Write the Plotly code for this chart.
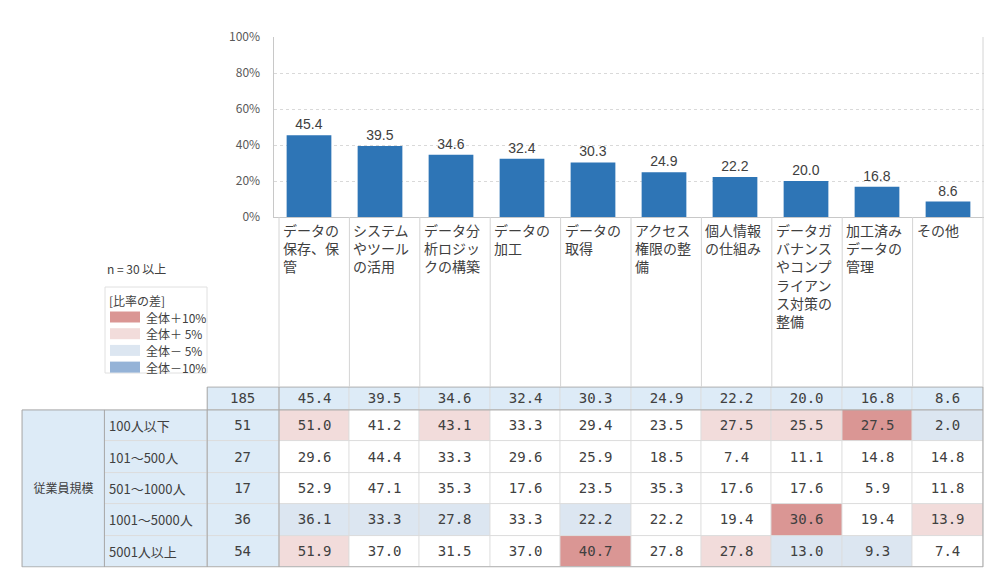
import plotly.graph_objects as go

# ---- data ----
categories = ["データの保存、保管", "システムやツールの活用", "データ分析ロジックの構築",
              "データの加工", "データの取得", "アクセス権限の整備", "個人情報の仕組み",
              "データガバナンスやコンプライアンス対策の整備", "加工済みデータの管理", "その他"]
total_n = 185
total_pct = [45.4, 39.5, 34.6, 32.4, 30.3, 24.9, 22.2, 20.0, 16.8, 8.6]

group_title = "従業員規模"
size_labels = ["100人以下", "101～500人", "501～1000人", "1001～5000人", "5001人以上"]
size_n = [51, 27, 17, 36, 54]
pct_100 = [51.0, 41.2, 43.1, 33.3, 29.4, 23.5, 27.5, 25.5, 27.5, 2.0]
pct_500 = [29.6, 44.4, 33.3, 29.6, 25.9, 18.5, 7.4, 11.1, 14.8, 14.8]
pct_1000 = [52.9, 47.1, 35.3, 17.6, 23.5, 35.3, 17.6, 17.6, 5.9, 11.8]
pct_5000 = [36.1, 33.3, 27.8, 33.3, 22.2, 22.2, 19.4, 30.6, 19.4, 13.9]
pct_over = [51.9, 37.0, 31.5, 37.0, 40.7, 27.8, 27.8, 13.0, 9.3, 7.4]
size_pct = [pct_100, pct_500, pct_1000, pct_5000, pct_over]

y_ticks = [0, 20, 40, 60, 80, 100]
note_text = "n = 30 以上"
legend_title = "[比率の差]"
legend_labels = ["全体＋10%", "全体＋ 5%", "全体－ 5%", "全体－10%"]
min_n = 30

# ---- styling ----
W, H = 1000, 583
JP = "Noto Sans CJK JP"
MONO = "DejaVu Sans Mono"
TXT = "#404040"
BAR = "#2E75B6"
HEAD = "#DDEBF7"
PLUS10, PLUS5, MINUS5, MINUS10 = "#DA9694", "#F2DCDB", "#DCE6F1", "#95B3D7"
swatches = [PLUS10, PLUS5, MINUS5, MINUS10]
palette = ["#FFFFFF", HEAD, PLUS5, PLUS10, MINUS5, MINUS10]


def px(x):
    return x / W


def py(y):
    return 1 - y / H


def code(v, base, n):
    # colour class of a cell: difference to total, only when n >= 30
    if n < min_n:
        return 0
    d = v - base
    if d >= 10:
        return 3
    if d >= 5:
        return 2
    if d <= -10:
        return 5
    if d <= -5:
        return 4
    return 0


def wrap(s, k=4):
    return "<br>".join(s[i:i + k] for i in range(0, len(s), k))


# table geometry (x2 units = one data column)
col_w = 70.4
row_h = 31.4
x0_px = 279
y0_px = 387
head_h = 0.73
x_edges = [-2.48, -1.02] + list(range(11))
y_edges = [0, head_h] + [head_h + i + 1 for i in range(5)]
grp_x = [-3.65, -2.48]
x2_rng = [-3.67, 10.02]
y2_rng = [y_edges[-1] + 0.02, -0.02]

fig = go.Figure()

fig.add_trace(go.Bar(
    x=list(range(len(categories))), y=total_pct, width=0.63,
    marker=dict(color=BAR, line=dict(width=0)),
    text=[f"{v:.1f}" for v in total_pct], textposition="outside",
    textfont=dict(family="Liberation Sans", size=14, color=TXT),
    cliponaxis=False, hoverinfo="skip", showlegend=False,
))

# table cells
z = [[None, 1] + [1] * 10]
txt = [["", str(total_n)] + [f"{v:.1f}" for v in total_pct]]
for n, row in zip(size_n, size_pct):
    z.append([1, 1] + [code(v, b, n) for v, b in zip(row, total_pct)])
    txt.append(["", str(n)] + [f"{v:.1f}" for v in row])

scale = []
for i, c in enumerate(palette):
    scale += [[i / len(palette), c], [(i + 1) / len(palette), c]]

fig.add_trace(go.Heatmap(
    x=x_edges, y=y_edges, z=z, text=txt, texttemplate="%{text}",
    textfont=dict(family=MONO, size=14, color=TXT),
    colorscale=scale, zmin=-0.5, zmax=len(palette) - 0.5, showscale=False,
    xgap=1, ygap=1, hoverinfo="skip", xaxis="x2", yaxis="y2",
))
fig.add_trace(go.Heatmap(
    x=grp_x, y=[head_h, y_edges[-1]], z=[[1]], text=[[group_title]],
    texttemplate="%{text}", textfont=dict(family=JP, size=12, color=TXT),
    colorscale=scale, zmin=-0.5, zmax=len(palette) - 0.5, showscale=False,
    hoverinfo="skip", xaxis="x2", yaxis="y2",
))

shapes = []
# thin grid under the cells
shapes.append(dict(type="rect", xref="x2", yref="y2", x0=grp_x[0], x1=10,
                   y0=head_h, y1=y_edges[-1], fillcolor="#DCDCDC", line_width=0, layer="below"))
shapes.append(dict(type="rect", xref="x2", yref="y2", x0=-1.02, x1=10,
                   y0=0, y1=head_h, fillcolor="#DCDCDC", line_width=0, layer="below"))
# darker borders
dark = dict(color="#A6A6A6", width=1)
for xv, ya in [(grp_x[0], head_h), (-2.48, head_h), (-1.02, 0), (0, 0), (10, 0)]:
    shapes.append(dict(type="line", xref="x2", yref="y2", x0=xv, x1=xv,
                       y0=ya, y1=y_edges[-1], line=dark))
for yv, xa in [(0, -1.02), (head_h, grp_x[0]), (y_edges[-1], grp_x[0])]:
    shapes.append(dict(type="line", xref="x2", yref="y2", x0=xa, x1=10,
                       y0=yv, y1=yv, line=dark))
# column dividers between chart and table
for i in range(11):
    xp = px(x0_px + i * col_w)
    top = 37 if i == 10 else 217
    shapes.append(dict(type="line", xref="paper", yref="paper", x0=xp, x1=xp,
                       y0=py(top), y1=py(y0_px), line=dict(color="#D4D4D4", width=1)))
# legend box
shapes.append(dict(type="rect", xref="paper", yref="paper", x0=px(105), x1=px(207),
                   y0=py(287), y1=py(373), line=dict(color="#E0E0E0", width=1)))
ann = []
for k, (c, lab) in enumerate(zip(swatches, legend_labels)):
    yc = 317 + k * 16.7
    shapes.append(dict(type="rect", xref="paper", yref="paper", x0=px(110), x1=px(140),
                       y0=py(yc - 5.5), y1=py(yc + 5.5), fillcolor=c, line_width=0))
    ann.append(dict(x=px(144), y=py(yc), xref="paper", yref="paper", text=lab,
                    xanchor="left", yanchor="middle", showarrow=False,
                    font=dict(family=JP, size=12, color=TXT)))
ann.append(dict(x=px(107), y=py(300), xref="paper", yref="paper", text=legend_title,
                xanchor="left", yanchor="middle", showarrow=False,
                font=dict(family=JP, size=12, color=TXT)))
ann.append(dict(x=px(105), y=py(268), xref="paper", yref="paper", text=note_text,
                xanchor="left", yanchor="middle", showarrow=False,
                font=dict(family=JP, size=12, color=TXT)))

# category labels, left aligned in their column
for i, c in enumerate(categories):
    ann.append(dict(x=i, y=py(218), xref="x2", yref="paper", text=wrap(c),
                    xanchor="left", yanchor="top", align="left", xshift=2,
                    showarrow=False, font=dict(family=JP, size=14, color=TXT)))
# row labels
for j, lab in enumerate(size_labels):
    ann.append(dict(x=-2.48, y=head_h + j + 0.5, xref="x2", yref="y2", text=lab,
                    xanchor="left", yanchor="middle", xshift=3, showarrow=False,
                    font=dict(family=JP, size=13, color=TXT)))

x2_dom = [px(x0_px + x2_rng[0] * col_w), px(x0_px + x2_rng[1] * col_w)]
y2_dom = [py(y0_px + y2_rng[0] * row_h), py(y0_px + y2_rng[1] * row_h)]

fig.update_layout(
    width=W, height=H, margin=dict(l=0, r=0, t=0, b=0, autoexpand=False),
    paper_bgcolor="white", plot_bgcolor="rgba(0,0,0,0)",
    showlegend=False, bargap=0.37,
    xaxis=dict(domain=[px(273.5), px(983.5)], range=[-0.5, 9.5], showticklabels=False,
               showgrid=False, zeroline=False, showline=True, linecolor="#C8C8C8",
               ticks="", fixedrange=True, automargin=False),
    yaxis=dict(domain=[py(217), py(37)], range=[0, 100], tickmode="array",
               tickvals=y_ticks, ticktext=[f"{v}%" for v in y_ticks],
               showgrid=True, gridcolor="#D9D9D9", griddash="dot",
               zeroline=False, showline=True, linecolor="#C8C8C8", ticks="",
               ticklabelstandoff=10, automargin=False,
               tickfont=dict(family=JP, size=12, color="#595959"), fixedrange=True),
    xaxis2=dict(domain=x2_dom, range=x2_rng, visible=False, anchor="y2", fixedrange=True),
    yaxis2=dict(domain=y2_dom, range=y2_rng, visible=False, anchor="x2", fixedrange=True),
    shapes=shapes, annotations=ann,
)

fig.write_html("out.html", config={"displayModeBar": False},
               post_script="document.body.style.margin='0';")
